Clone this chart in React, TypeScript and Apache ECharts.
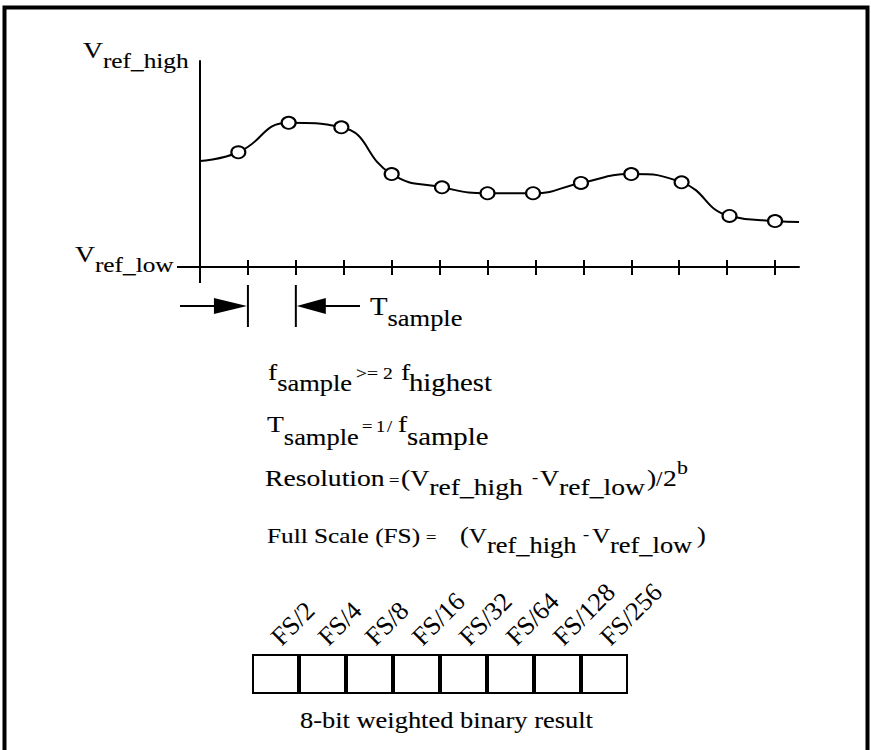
import React, { useEffect, useRef } from "react";
import * as echarts from "echarts";

const FONT = '"Liberation Serif", "Times New Roman", Times, serif';
const SX = 1.15; // horizontal stretch of the reference lettering

// sampled analog signal (x in sample periods, y in % of Vref range)
const sampleTimes = [0.8, 1.85, 2.95, 4.0, 5.05, 6.0, 6.95, 7.95, 9.0, 10.05, 11.05, 12.0];
const sampleLevels = [55.7, 70.0, 67.8, 45.1, 38.7, 35.8, 35.8, 40.8, 45.1, 41.1, 24.8, 22.3];
const signalStart = [0, 51.5];
const signalEnd = [12.5, 21.8];
const tickTimes = [1, 2, 3, 4, 5, 6, 7, 8, 9, 10, 11, 12];
const periodTicks = [1, 2];

// 8-bit register
const bitWeights = ["FS/2", "FS/4", "FS/8", "FS/16", "FS/32", "FS/64", "FS/128", "FS/256"];
const bitCells = [1, 1, 1, 1, 1, 1, 1, 1];

let ctx2d: CanvasRenderingContext2D | null = null;
function textWidth(t: string, size: number) {
  if (!ctx2d) ctx2d = document.createElement("canvas").getContext("2d");
  ctx2d!.font = `${size}px "Liberation Serif"`;
  return ctx2d!.measureText(t).width;
}

type Seg = { t: string; s: number; dy?: number; x?: number };
function segText(x0: number, base: number, segs: Seg[]) {
  const els: any[] = [];
  let x = x0;
  for (const sg of segs) {
    if (sg.x !== undefined) x = sg.x;
    const lead = sg.t.length - sg.t.trimStart().length;
    const leadW = textWidth(sg.t.slice(0, lead), sg.s) * SX;
    const body = sg.t.trim();
    const b = base + (sg.dy || 0);
    if (body) {
      els.push({
        type: "text",
        x: x + leadW,
        y: b - 0.34 * sg.s,
        scaleX: SX,
        silent: true,
        style: {
          text: body,
          fontSize: sg.s,
          fontFamily: FONT,
          fill: "#000",
          stroke: "#000",
          lineWidth: 0.12,
          align: "left",
          verticalAlign: "middle",
        },
      });
    }
    x += textWidth(sg.t, sg.s) * SX;
  }
  return els;
}

const BLACK = "#000";

export default function App() {
  const ref = useRef<HTMLDivElement>(null);
  useEffect(() => {
    if (!ref.current) return;
    const chart = echarts.init(ref.current, null, { renderer: "svg" });
    const signalData: any[] = [
      { value: signalStart, symbol: "none" },
      ...sampleTimes.map((t, i) => [t, sampleLevels[i]]),
      { value: signalEnd, symbol: "none" },
    ];
    const axisX = (inside: boolean, showLine: boolean) => ({
      type: "value",
      gridIndex: 0,
      min: 0,
      max: 12.5,
      position: "bottom",
      axisLine: { show: showLine, onZero: false, lineStyle: { color: BLACK, width: 2 } },
      axisTick: {
        show: true,
        inside,
        length: inside ? 7 : 8,
        customValues: tickTimes,
        lineStyle: { color: BLACK, width: 2 },
      },
      axisLabel: { show: false },
      splitLine: { show: false },
    });
    chart.setOption({
      animation: false,
      backgroundColor: "#fff",
      grid: [
        { left: 200, top: 61, width: 599, height: 206 },
        { left: 252, top: 654, width: 376, height: 40 },
      ],
      xAxis: [
        axisX(true, true),
        axisX(false, false),
        {
          type: "category",
          gridIndex: 1,
          position: "top",
          data: bitWeights,
          axisLine: { show: false },
          axisTick: { show: false },
          splitLine: { show: false },
          axisLabel: {
            rotate: 45,
            margin: 13,
            fontFamily: FONT,
            fontSize: 26,
            color: BLACK,
            interval: 0,
          },
        },
      ],
      yAxis: [
        {
          type: "value",
          gridIndex: 0,
          min: 0,
          max: 100,
          axisLine: { show: true, onZero: false, lineStyle: { color: BLACK, width: 2 } },
          axisTick: { show: false },
          axisLabel: { show: false },
          splitLine: { show: false },
        },
        { type: "value", gridIndex: 1, min: 0, max: 1, show: false },
      ],
      series: [
        {
          type: "line",
          xAxisIndex: 0,
          yAxisIndex: 0,
          data: signalData,
          smooth: 0.5,
          symbol: "circle",
          symbolSize: [14, 12],
          lineStyle: { color: BLACK, width: 2 },
          itemStyle: { color: "#fff", borderColor: BLACK, borderWidth: 2 },
          z: 3,
        },
        {
          type: "bar",
          xAxisIndex: 2,
          yAxisIndex: 1,
          data: bitCells,
          barWidth: "100%",
          itemStyle: { color: "#fff", borderColor: BLACK, borderWidth: 2 },
        },
      ],
    });

    const origin = chart.convertToPixel({ gridIndex: 0 }, [0, 0]) as number[];
    const p1 = chart.convertToPixel({ xAxisIndex: 0 }, periodTicks[0]) as number;
    const p2 = chart.convertToPixel({ xAxisIndex: 0 }, periodTicks[1]) as number;
    const ay = 306;
    const lineStyle = { stroke: BLACK, lineWidth: 2 };

    const graphic: any[] = [
      {
        type: "rect",
        shape: { x: 4.5, y: 7.5, width: 863, height: 800 },
        style: { fill: "none", stroke: BLACK, lineWidth: 4 },
        silent: true,
      },
      // axis extensions
      { type: "line", shape: { x1: origin[0] - 23, y1: origin[1], x2: origin[0], y2: origin[1] }, style: lineStyle },
      { type: "line", shape: { x1: origin[0], y1: origin[1], x2: origin[0], y2: origin[1] + 16 }, style: lineStyle },
      // period markers
      { type: "line", shape: { x1: p1, y1: 285, x2: p1, y2: 327 }, style: lineStyle },
      { type: "line", shape: { x1: p2, y1: 285, x2: p2, y2: 327 }, style: lineStyle },
      { type: "line", shape: { x1: 180, y1: ay, x2: p1 - 30, y2: ay }, style: lineStyle },
      {
        type: "polygon",
        shape: { points: [[p1 - 34, ay - 8], [p1 - 1, ay], [p1 - 34, ay + 8]] },
        style: { fill: BLACK },
      },
      {
        type: "polygon",
        shape: { points: [[p2 + 1, ay], [p2 + 30, ay - 8], [p2 + 30, ay + 8]] },
        style: { fill: BLACK },
      },
      { type: "line", shape: { x1: p2 + 26, y1: ay, x2: 360, y2: ay }, style: lineStyle },
      ...segText(83, 58, [{ t: "V", s: 24 }, { t: "ref_high", s: 22, dy: 10 }]),
      ...segText(75, 262, [{ t: "V", s: 24 }, { t: "ref_low", s: 22, dy: 10 }]),
      ...segText(370, 315, [{ t: "T", s: 25 }, { t: "sample", s: 23, dy: 11 }]),
      ...segText(268, 380, [
        { t: "f", s: 24, x: 268 },
        { t: "sample", s: 23, dy: 11 },
        { t: ">=", s: 17, dy: -1, x: 356 },
        { t: "2", s: 17, dy: -1, x: 383 },
        { t: "f", s: 24, x: 401 },
        { t: "highest", s: 25, dy: 11, x: 409 },
      ]),
      ...segText(267, 432, [
        { t: "T", s: 24, x: 267 },
        { t: "sample", s: 23, dy: 13 },
        { t: "=", s: 16, x: 362 },
        { t: "1", s: 16, x: 376 },
        { t: "/", s: 16, x: 387 },
        { t: "f", s: 24, x: 398 },
        { t: "sample", s: 25, dy: 13, x: 407 },
      ]),
      ...segText(265, 486, [
        { t: "Resolution", s: 24, x: 265 },
        { t: "=", s: 16, x: 389 },
        { t: "(", s: 24, x: 401 },
        { t: "V", s: 23 },
        { t: "ref_high", s: 24, dy: 9 },
        { t: "-", s: 16, dy: -3, x: 532 },
        { t: "V", s: 23, x: 540 },
        { t: "ref_low", s: 24, dy: 9 },
        { t: ")", s: 24, x: 647 },
        { t: "/", s: 20, x: 656 },
        { t: "2", s: 24, x: 663 },
        { t: "b", s: 19, dy: -12, x: 677 },
      ]),
      ...segText(267, 543, [
        { t: "Full Scale (FS)", s: 22, x: 267 },
        { t: "=", s: 16, x: 426 },
        { t: "(", s: 23, x: 460 },
        { t: "V", s: 22 },
        { t: "ref_high", s: 23, dy: 10, x: 487 },
        { t: "-", s: 16, dy: -3, x: 583 },
        { t: "V", s: 22, x: 592 },
        { t: "ref_low", s: 23, dy: 10, x: 610 },
        { t: ")", s: 23, x: 697 },
      ]),
      ...segText(300, 728, [{ t: "8-bit weighted binary result", s: 23 }]),
    ];
    chart.setOption({ graphic });
    return () => chart.dispose();
  }, []);
  return (
    <div
      ref={ref}
      style={{ position: "absolute", left: 0, top: 0, width: 871, height: 750, background: "#fff" }}
    />
  );
}
